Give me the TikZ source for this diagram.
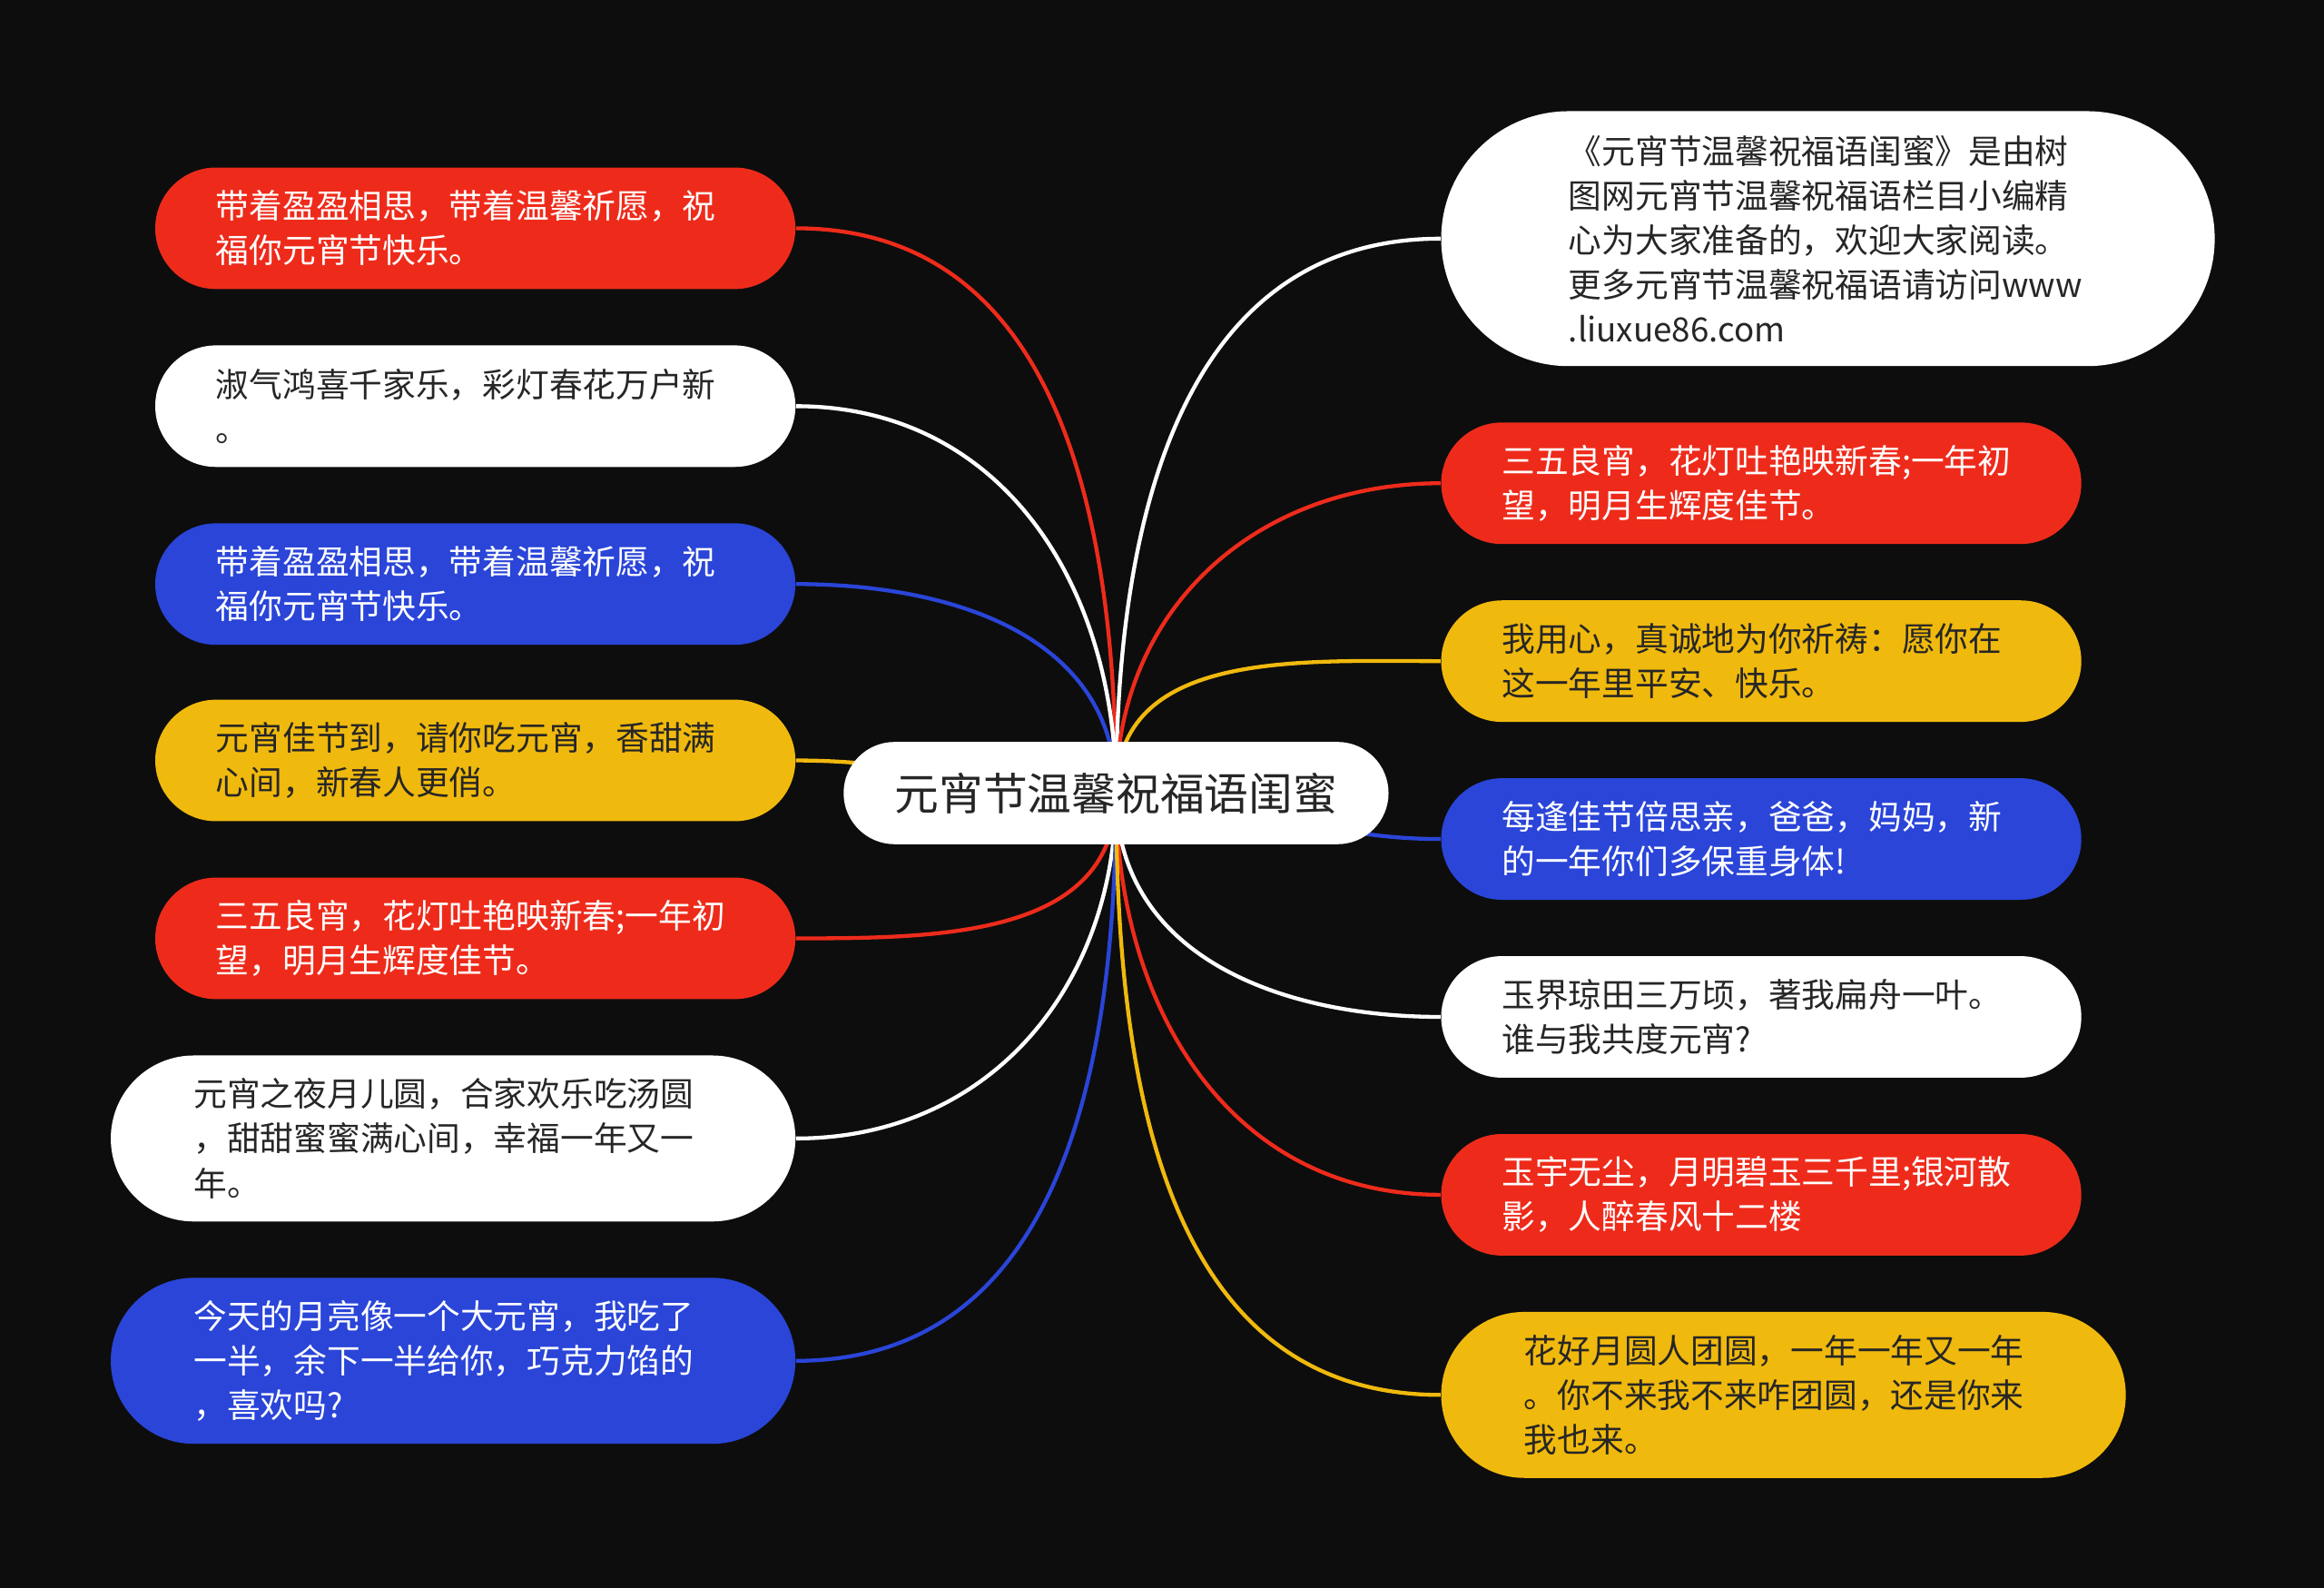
\documentclass[tikz,border=0pt]{standalone}
\usepackage{fontspec}
\usepackage{xcolor}
\usepackage{tikz}
\newfontfamily\cjk{Noto Sans CJK SC}
\definecolor{bg}{HTML}{0D0D0D}
\definecolor{ink}{HTML}{262626}
\definecolor{tred}{HTML}{EE2B1B}
\definecolor{tblue}{HTML}{2A45D8}
\definecolor{tyellow}{HTML}{F0B90D}

\begin{document}
\begin{tikzpicture}[x=0.02cm, y=-0.02cm,
    leaf/.style={rectangle, font=\cjk\fontsize{12.8}{17.1}\selectfont,
                 text width=7cm, align=left, inner ysep=0pt,
                 inner xsep=0.82cm, rounded corners=0.82cm, minimum height=1.64cm},
    tall/.style={inner xsep=1.12cm, rounded corners=1.12cm, minimum height=2.24cm},
    huge/.style={inner xsep=1.72cm, rounded corners=1.72cm, minimum height=3.44cm},
    redbox/.style={leaf, fill=tred, text=white},
    bluebox/.style={leaf, fill=tblue, text=white},
    yellowbox/.style={leaf, fill=tyellow, text=ink},
    whitebox/.style={leaf, fill=white, text=ink},
    hubbox/.style={rectangle, fill=white, text=ink,
                   font=\cjk\fontsize{17}{20}\selectfont, inner ysep=0pt,
                   inner xsep=0.69cm, rounded corners=0.69cm, minimum height=1.38cm},
    link/.style={line width=1.5pt, looseness=1.05},
]

\fill[bg] (0,0) rectangle (1568,1071);
\coordinate (c) at (753,535);

% left column
\node[redbox, anchor=east] (l1) at (537,154) {带着盈盈相思，带着温馨祈愿，祝\\福你元宵节快乐。};
\node[whitebox, anchor=east] (l2) at (537,274) {淑气鸿喜千家乐，彩灯春花万户新\\。};
\node[bluebox, anchor=east] (l3) at (537,394) {带着盈盈相思，带着温馨祈愿，祝\\福你元宵节快乐。};
\node[yellowbox, anchor=east] (l4) at (537,513) {元宵佳节到，请你吃元宵，香甜满\\心间，新春人更俏。};
\node[redbox, anchor=east] (l5) at (537,633) {三五良宵，花灯吐艳映新春;一年初\\望，明月生辉度佳节。};
\node[whitebox, tall, anchor=east] (l6) at (537,768) {元宵之夜月儿圆，合家欢乐吃汤圆\\，甜甜蜜蜜满心间，幸福一年又一\\年。};
\node[bluebox, tall, anchor=east] (l7) at (537,918) {今天的月亮像一个大元宵，我吃了\\一半，余下一半给你，巧克力馅的\\，喜欢吗?};

% right column
\node[whitebox, huge, anchor=west] (r1) at (972,161) {《元宵节温馨祝福语闺蜜》是由树\\图网元宵节温馨祝福语栏目小编精\\心为大家准备的，欢迎大家阅读。\\更多元宵节温馨祝福语请访问www\\.liuxue86.com};
\node[redbox, anchor=west] (r2) at (972,326) {三五良宵，花灯吐艳映新春;一年初\\望，明月生辉度佳节。};
\node[yellowbox, anchor=west] (r3) at (972,446) {我用心，真诚地为你祈祷：愿你在\\这一年里平安、快乐。};
\node[bluebox, anchor=west] (r4) at (972,566) {每逢佳节倍思亲，爸爸，妈妈，新\\的一年你们多保重身体!};
\node[whitebox, anchor=west] (r5) at (972,686) {玉界琼田三万顷，著我扁舟一叶。\\谁与我共度元宵?};
\node[redbox, anchor=west] (r6) at (972,806) {玉宇无尘，月明碧玉三千里;银河散\\影，人醉春风十二楼};
\node[yellowbox, tall, anchor=west] (r7) at (972,941) {花好月圆人团圆，一年一年又一年\\。你不来我不来咋团圆，还是你来\\我也来。};

% branches
\draw[link, tred] (c) to[out=90,in=0] (l1.east);
\draw[link, white] (c) to[out=90,in=0] (l2.east);
\draw[link, tblue] (c) to[out=90,in=0] (l3.east);
\draw[link, tyellow] (c) to[out=180,in=0] (l4.east);
\draw[link, tred] (c) to[out=-90,in=0] (l5.east);
\draw[link, white] (c) to[out=-90,in=0] (l6.east);
\draw[link, tblue] (c) to[out=-90,in=0] (l7.east);
\draw[link, white] (c) to[out=90,in=180] (r1.west);
\draw[link, tred] (c) to[out=90,in=180] (r2.west);
\draw[link, tyellow] (c) to[out=90,in=180] (r3.west);
\draw[link, tblue] (c) to[out=0,in=180] (r4.west);
\draw[link, white] (c) to[out=-90,in=180] (r5.west);
\draw[link, tred] (c) to[out=-90,in=180] (r6.west);
\draw[link, tyellow] (c) to[out=-90,in=180] (r7.west);

\node[hubbox] (hub) at (c) {元宵节温馨祝福语闺蜜};
\end{tikzpicture}
\end{document}
